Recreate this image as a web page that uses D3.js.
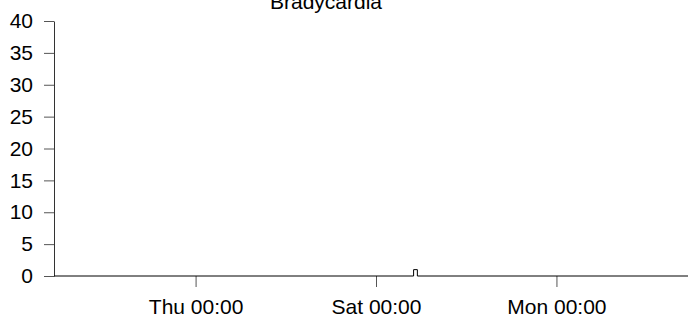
<!DOCTYPE html>
<html>
<head>
<meta charset="utf-8">
<script src="https://cdn.jsdelivr.net/npm/d3@7"></script>
<style>
  body { margin: 0; background: #fff; }
  text { font-family: "Liberation Sans", Arial, sans-serif; }
</style>
</head>
<body>
<svg id="chart" width="690" height="318"></svg>
<script>
// hourly counts (step series): change points only
const times = ["2019-12-31T10:00", "2020-01-04T10:00", "2020-01-04T11:00", "2020-01-07T11:00"];
const counts = [0, 1, 0, 0];
const xDomain = ["2019-12-31T10:20", "2020-01-07T11:00"];
const xTicks = ["2020-01-02T00:00", "2020-01-04T00:00", "2020-01-06T00:00"];
const yTicks = [0, 5, 10, 15, 20, 25, 30, 35, 40];
const title = "Bradycardia";

const parse = d3.timeParse("%Y-%m-%dT%H:%M");
const data = times.map((t, i) => ({ t: parse(t), v: counts[i] }));

const svg = d3.select("#chart");
const margin = { top: 21, right: 2, bottom: 42, left: 54 };

const xScale = d3.scaleTime()
  .domain(xDomain.map(parse))
  .range([margin.left, 688]);

const yScale = d3.scaleLinear()
  .domain([0, 40])
  .range([276, margin.top]);

// title
svg.append("text")
  .attr("x", 326)
  .attr("y", 9)
  .attr("text-anchor", "middle")
  .attr("font-size", 21)
  .text(title);

// y axis
const yAxis = svg.append("g")
  .attr("transform", `translate(${margin.left},0)`)
  .call(d3.axisLeft(yScale).tickValues(yTicks).tickSize(10).tickPadding(11).tickSizeOuter(0));
yAxis.select(".domain").attr("stroke", "#333");
yAxis.selectAll(".tick line").attr("stroke", "#555");
yAxis.selectAll(".tick text")
  .attr("font-size", 21)
  .attr("fill", "#000")
  .attr("font-family", "Liberation Sans, Arial, sans-serif");

// x axis
const fmt = d3.timeFormat("%a %H:%M");
const xAxis = svg.append("g")
  .attr("transform", `translate(0,276)`)
  .call(d3.axisBottom(xScale).tickValues(xTicks.map(parse)).tickFormat(fmt).tickSize(11).tickPadding(12).tickSizeOuter(0));
xAxis.select(".domain").remove();
xAxis.selectAll(".tick line").attr("stroke", "#555");
xAxis.selectAll(".tick text")
  .attr("font-size", 21)
  .attr("fill", "#000")
  .attr("font-family", "Liberation Sans, Arial, sans-serif");

// data line
const line = d3.line()
  .x(d => xScale(d.t))
  .y(d => yScale(d.v))
  .curve(d3.curveStepAfter);

svg.append("path")
  .datum(data.map(d => ({ t: d.t < xScale.domain()[0] ? xScale.domain()[0] : d.t, v: d.v })))
  .attr("d", line)
  .attr("fill", "none")
  .attr("stroke", "#000")
  .attr("stroke-width", 1);
</script>
</body>
</html>
